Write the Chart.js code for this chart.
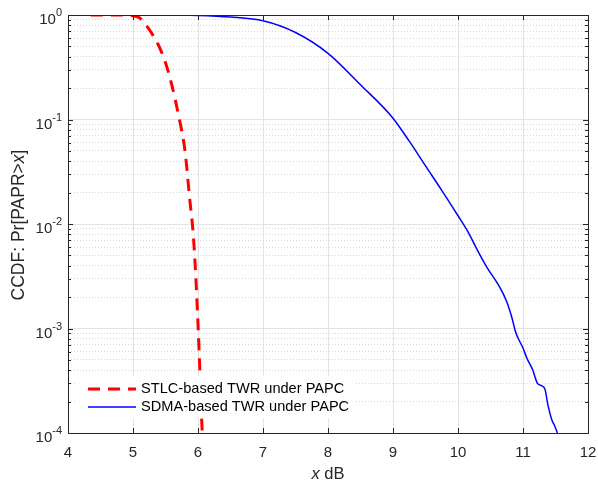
<!DOCTYPE html>
<html>
<head>
<meta charset="utf-8">
<script src="https://cdn.jsdelivr.net/npm/chart.js@4"></script>
<style>
  html, body { margin: 0; padding: 0; background: #fff; }
  #wrap { width: 598px; height: 483px; }
</style>
</head>
<body>
<div id="wrap"><canvas id="ccdf"></canvas></div>
<script>
// data
const stlcX = [4.35, 4.6, 4.9, 5.0, 5.1, 5.2, 5.3, 5.4, 5.5, 5.6, 5.7, 5.8, 5.87, 5.93, 5.97, 6.0, 6.03, 6.06, 6.08];
const stlcY = [1, 1, 0.998, 0.985, 0.94, 0.8, 0.65, 0.5, 0.35, 0.21, 0.11, 0.05, 0.018, 0.0075, 0.0028, 0.0011, 0.00038, 0.00012, 0.00007];

const sdmaX = [5.13, 5.5, 6.0, 6.5, 7.0, 7.5, 8.0, 8.5, 9.0, 9.25, 9.5, 9.75, 10.0, 10.15, 10.3, 10.45, 10.64, 10.75, 10.84, 10.88, 10.92, 11.0, 11.06, 11.15, 11.22, 11.3, 11.34, 11.38, 11.45, 11.48, 11.53];
const sdmaY = [1, 1, 0.99, 0.955, 0.88, 0.68, 0.43, 0.215, 0.103, 0.062, 0.036, 0.021, 0.012, 0.0085, 0.0056, 0.0038, 0.0025, 0.0018, 0.0012, 0.00095, 0.00082, 0.00065, 0.00052, 0.0004, 0.0003, 0.00028, 0.00026, 0.00019, 0.00013, 0.00012, 0.0001];

const seriesNames = ['STLC-based TWR under PAPC', 'SDMA-based TWR under PAPC'];
const xTicks = [4, 5, 6, 7, 8, 9, 10, 11, 12];
const yDecades = [0, -1, -2, -3, -4];

const FONT = '"Liberation Sans", Arial, Helvetica, sans-serif';
const AXIS_COLOR = '#262626';

const toPoints = (xs, ys) => xs.map((x, i) => ({ x: x, y: ys[i] }));
const isMajor = v => Math.abs(Math.log10(v) - Math.round(Math.log10(v))) < 1e-6;

// log ticks 1..9 per decade
const yTickValues = [];
for (let e = -4; e < 0; e++) {
    for (let m = 1; m <= 9; m++) yTickValues.push(m * Math.pow(10, e));
}
yTickValues.push(1);

// frame, inward ticks, superscript labels, titles, legend
const decorPlugin = {
    id: 'decor',
    beforeDraw(chart) {
        const c = chart.ctx;
        c.save();
        c.fillStyle = '#fff';
        c.fillRect(0, 0, chart.width, chart.height);
        c.restore();
    },
    afterDatasetsDraw(chart) {
        const c = chart.ctx;
        const a = chart.chartArea;
        const xs = chart.scales.x;
        const ys = chart.scales.y;
        c.save();

        // legend box
        const lx = 76, ly = 376, lw = 280, lh = 42;
        c.fillStyle = '#fff';
        c.fillRect(lx, ly, lw, lh);
        c.lineCap = 'butt';
        c.strokeStyle = '#ff0000';
        c.lineWidth = 3;
        c.setLineDash([12, 8]);
        c.beginPath();
        c.moveTo(88, 389); c.lineTo(136, 389);
        c.stroke();
        c.setLineDash([]);
        c.strokeStyle = '#0000ff';
        c.lineWidth = 1.5;
        c.beginPath();
        c.moveTo(88, 407); c.lineTo(136, 407);
        c.stroke();
        c.fillStyle = '#000';
        c.font = '14.6px ' + FONT;
        c.textAlign = 'left';
        c.textBaseline = 'middle';
        c.fillText(seriesNames[0], 141, 389);
        c.fillText(seriesNames[1], 141, 407);

        // axes box
        c.strokeStyle = AXIS_COLOR;
        c.lineWidth = 1;
        c.strokeRect(a.left + 0.5, a.top + 0.5, a.right - a.left, a.bottom - a.top);

        // x ticks inward, top and bottom
        c.beginPath();
        xTicks.forEach(v => {
            const px = Math.round(xs.getPixelForValue(v)) + 0.5;
            c.moveTo(px, a.bottom); c.lineTo(px, a.bottom - 5);
            c.moveTo(px, a.top); c.lineTo(px, a.top + 5);
        });
        // y ticks inward, left and right
        yTickValues.forEach(v => {
            const py = Math.round(ys.getPixelForValue(v)) + 0.5;
            const len = isMajor(v) ? 5 : 3;
            c.moveTo(a.left, py); c.lineTo(a.left + len, py);
            c.moveTo(a.right, py); c.lineTo(a.right - len, py);
        });
        c.stroke();

        // y labels 10^n
        c.fillStyle = AXIS_COLOR;
        yDecades.forEach(e => {
            const py = ys.getPixelForValue(Math.pow(10, e));
            const sup = e === 0 ? '0' : '-' + Math.abs(e);
            c.font = '11px ' + FONT;
            const sw = c.measureText(sup).width;
            c.textAlign = 'left';
            c.textBaseline = 'middle';
            const right = 62;
            c.fillText(sup, right - sw, py - 2);
            c.font = '15px ' + FONT;
            c.textAlign = 'right';
            c.fillText('10', right - sw, py + 5);
        });

        // x title: italic x + " dB"
        c.fillStyle = AXIS_COLOR;
        c.textBaseline = 'middle';
        c.font = 'italic 16.5px ' + FONT;
        const wx = c.measureText('x').width;
        c.font = '16.5px ' + FONT;
        const wrest = c.measureText(' dB').width;
        const cx = (a.left + a.right) / 2;
        let sx = cx - (wx + wrest) / 2;
        c.textAlign = 'left';
        c.font = 'italic 16.5px ' + FONT;
        c.fillText('x', sx, 474);
        c.font = '16.5px ' + FONT;
        c.fillText(' dB', sx + wx, 474);

        // y title rotated
        c.translate(19, 225);
        c.rotate(-Math.PI / 2);
        const p1 = 'CCDF: Pr[PAPR>', p2 = 'x', p3 = ']';
        c.font = '17.5px ' + FONT;
        const w1 = c.measureText(p1).width, w3 = c.measureText(p3).width;
        c.font = 'italic 17.5px ' + FONT;
        const w2 = c.measureText(p2).width;
        let tx = -(w1 + w2 + w3) / 2;
        c.font = '17.5px ' + FONT;
        c.fillText(p1, tx, 0);
        c.font = 'italic 17.5px ' + FONT;
        c.fillText(p2, tx + w1, 0);
        c.font = '17.5px ' + FONT;
        c.fillText(p3, tx + w1 + w2, 0);

        c.restore();
    }
};

new Chart(document.getElementById('ccdf'), {
    type: 'scatter',
    data: {
        datasets: [{
            label: seriesNames[0],
            data: toPoints(stlcX, stlcY),
            showLine: true,
            borderColor: '#ff0000',
            borderWidth: 3,
            borderDash: [12, 8],
            pointRadius: 0,
            cubicInterpolationMode: 'monotone'
        }, {
            label: seriesNames[1],
            data: toPoints(sdmaX, sdmaY),
            showLine: true,
            borderColor: '#0000ff',
            borderWidth: 1.5,
            pointRadius: 0,
            cubicInterpolationMode: 'monotone'
        }]
    },
    options: {
        responsive: true,
        maintainAspectRatio: false,
        animation: false,
        layout: { padding: { top: 15, right: 10, left: 0, bottom: 0 } },
        plugins: {
            legend: { display: false },
            tooltip: { enabled: false }
        },
        scales: {
            x: {
                type: 'linear',
                min: 4,
                max: 12,
                afterBuildTicks: s => { s.ticks = xTicks.map(v => ({ value: v })); },
                afterFit: s => { s.height = 50; s.paddingLeft = 0; s.paddingRight = 0; },
                ticks: {
                    color: AXIS_COLOR,
                    font: { size: 15, family: FONT },
                    padding: 11,
                    autoSkip: false,
                    maxRotation: 0
                },
                grid: { color: '#e3e3e3', lineWidth: 1, drawTicks: false },
                border: { display: false }
            },
            y: {
                type: 'logarithmic',
                min: 1e-4,
                max: 1,
                afterBuildTicks: s => { s.ticks = yTickValues.map(v => ({ value: v })); },
                afterFit: s => { s.width = 68; s.paddingTop = 0; s.paddingBottom = 0; },
                ticks: { display: false, autoSkip: false },
                grid: {
                    color: ctx => (ctx.tick && isMajor(ctx.tick.value)) ? '#e3e3e3' : '#d6d6d6',
                    lineWidth: 1,
                    drawTicks: false
                },
                border: {
                    display: false,
                    dash: ctx => (ctx.tick && !isMajor(ctx.tick.value)) ? [1, 2] : []
                }
            }
        }
    },
    plugins: [decorPlugin]
});
</script>
</body>
</html>
